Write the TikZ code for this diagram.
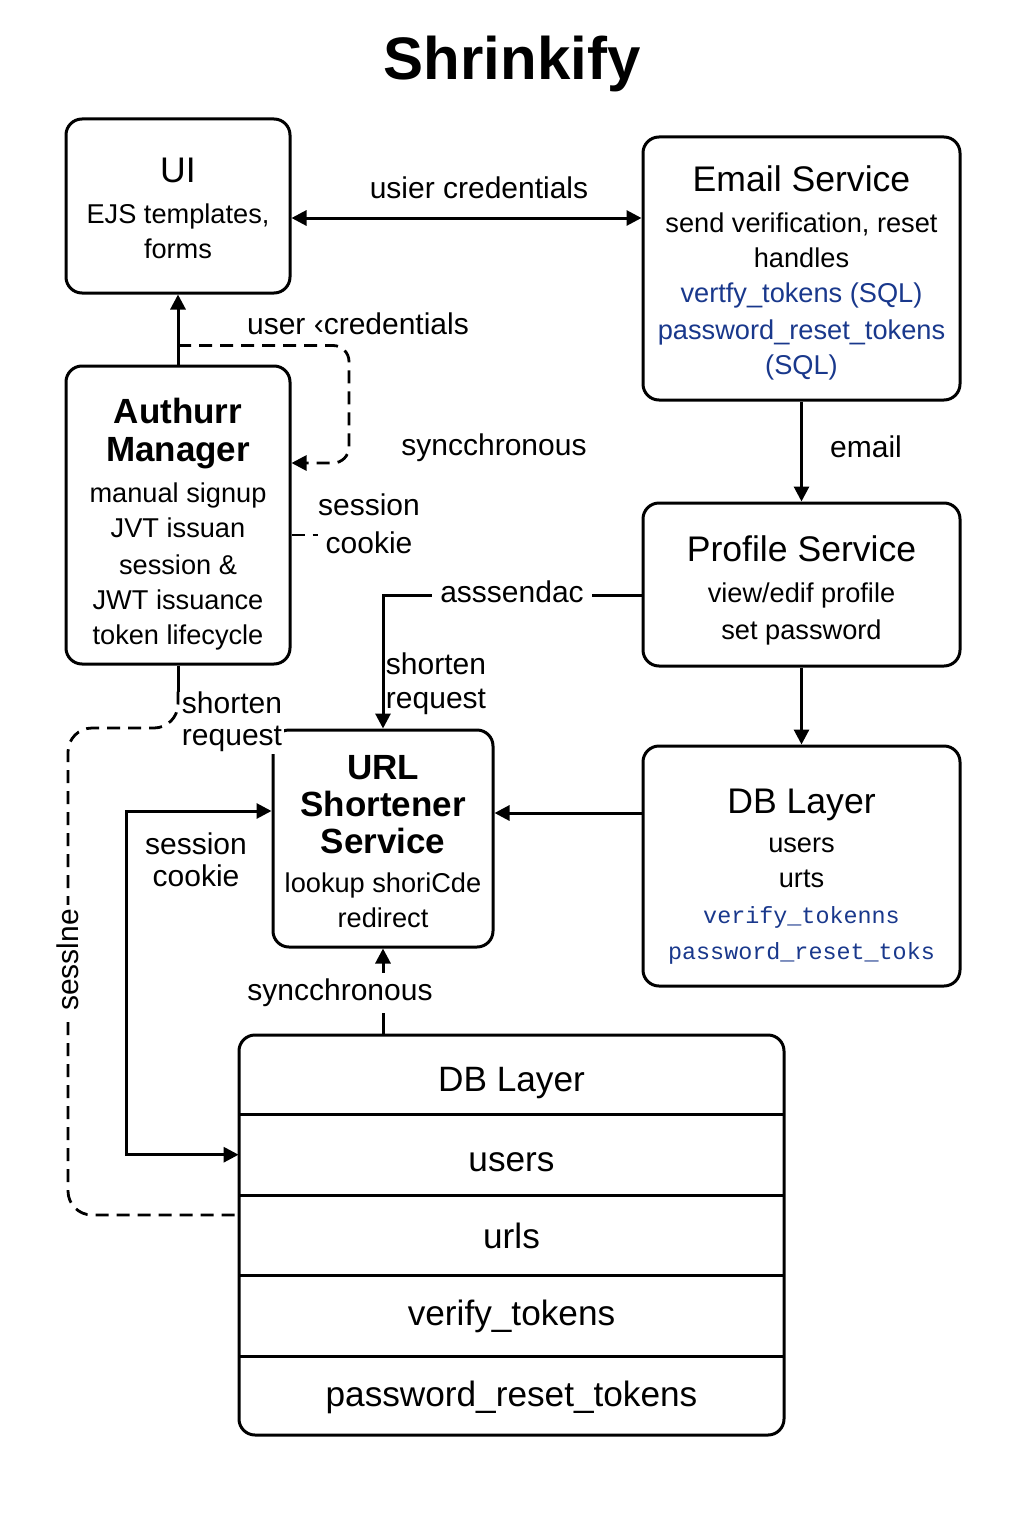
\documentclass[tikz,border=0pt]{standalone}
\usepackage{fontspec}
\setmainfont{Liberation Sans}
\setmonofont{Liberation Mono}
\usepackage{xcolor}
\usepackage{tikz}
\usetikzlibrary{arrows.meta,
                calc,
                positioning}
\definecolor{tokenblue}{rgb}{0.10,0.22,0.55}
\newcommand\boxtitle{\fontsize{17.8}{21}\selectfont}
\newcommand\boxtitlebf{\fontsize{17.5}{19}\selectfont\bfseries}
\newcommand\tokentext[1]{\textcolor{tokenblue}{#1}}
\newcommand\tokenmono[1]{{\ttfamily\fontsize{11.7}{17.5}\selectfont\color{tokenblue}#1}}
\newcommand\topgap[1]{\rule{0pt}{#1}}% extra room above the first line

\begin{document}
\begin{tikzpicture}[x=0.5pt, y=-0.5pt,
  every node/.style={font=\fontsize{13.6}{17.5}\selectfont},
  block/.style={draw, line width=1.5pt, rounded corners=8pt, align=center, inner sep=2pt},
  lbl/.style={font=\fontsize{15}{19}\selectfont, align=center, inner sep=1pt},
  link/.style={line width=1.5pt, -{Triangle[length=7.5pt,width=7.5pt]}},
  twoway/.style={line width=1.5pt, {Triangle[length=7.5pt,width=7.5pt]}-{Triangle[length=7.5pt,width=7.5pt]}},
  dashlink/.style={line width=1.4pt, dash pattern=on 6.5pt off 4pt},
  dbrow/.style={minimum width=272.5pt, minimum height=40pt, inner sep=0pt, font=\fontsize{17.6}{20}\selectfont}]

  \useasboundingbox (0,0) rectangle (1024,1536);
  \fill[white] (0,0) rectangle (1024,1536);

  \node[font=\fontsize{30}{36}\selectfont\bfseries] (title) at (512,64) {Shrinkify};

  % services
  \node[block, minimum width=112pt, minimum height=87pt] (ui) at (178,206)
    {{\boxtitle\topgap{15pt}UI}\\[3pt] EJS templates,\\ forms};
  \node[block, minimum width=158.5pt, minimum height=131.5pt] (email) at (801.5,268.5)
    {{\boxtitle\topgap{17pt}Email Service}\\[3pt] send verification, reset\\ handles\\
     \tokentext{vertfy\_tokens (SQL)}\\[1pt] \tokentext{password\_reset\_tokens}\\ \tokentext{(SQL)}};
  \node[block, minimum width=112pt, minimum height=149pt] (auth) at (178,515)
    {{\boxtitlebf\topgap{21.5pt}Authurr}\\[1.5pt]{\boxtitlebf Manager}\\[3pt] manual signup\\ JVT issuan\\[1pt]
     session \&\\ JWT issuance\\ token lifecycle};
  \node[block, minimum width=158.5pt, minimum height=81.5pt] (profile) at (801.5,584.5)
    {{\boxtitle\topgap{19pt}Profile Service}\\[3pt] view/edif profile\\[1pt] set password};
  \node[block, minimum width=110pt, minimum height=108.5pt] (url) at (383,838.5)
    {{\boxtitlebf\topgap{15pt}URL}\\[1pt]{\boxtitlebf Shortener}\\[1pt]{\boxtitlebf Service}\\[2pt] lookup shoriCde\\ redirect};
  \node[block, minimum width=158.5pt, minimum height=120pt] (dbside) at (801.5,866)
    {{\boxtitle\topgap{23pt}DB Layer}\\[2pt] users\\ urts\\[0.5pt] \tokenmono{verify\_tokenns}\\[0.5pt] \tokenmono{password\_reset\_toks}};

  % database table
  \node[block, minimum width=272.5pt, minimum height=200pt] (dbmain) at (511.5,1235) {};
  \node[dbrow, below=0pt of dbmain.north] (dbhead) {\topgap{21pt}DB Layer};
  \node[dbrow, below=0pt of dbhead] (dbusers) {\topgap{17pt}users};
  \node[dbrow, below=0pt of dbusers] (dburls) {urls};
  \node[dbrow, below=0pt of dburls] (dbverify) {verify\_tokens};
  \node[dbrow, below=0pt of dbverify] (dbreset) {password\_reset\_tokens};
  \foreach \row in {dbhead,dbusers,dburls,dbverify}
    \draw[line width=1.5pt] (\row.south west) -- (\row.south east);

  % connections
  \coordinate (credL) at ($(ui.east)+(0,12)$);
  \draw[twoway] (credL) -- (credL -| email.west);
  \node[lbl] (credlbl) at (479,188) {usier credentials};

  \draw[link] (auth.north) -- (ui.south);
  \coordinate (loopTop) at ($(auth.north)+(0,-19)$);
  \coordinate (loopEnd) at (349,463);
  \draw[dashlink, rounded corners=8pt, -{Triangle[length=7.5pt,width=7.5pt]}]
    (loopTop) -| (loopEnd) -- (loopEnd -| auth.east);
  \node[lbl] (credlbl2) at (358,324) {user ‹credentials};
  \node[lbl] (synclbl) at (494,448) {syncchronous};

  \draw[dashlink] ($(auth.east)+(0,20)$) -- ++(26,0);
  \node[lbl] (cookielbl) at (369,524) {session\\ cookie};

  \draw[link] (email.south) -- (profile.north);
  \node[lbl] (emaillbl) at (866,447) {email};

  \coordinate (ascA) at ($(profile.west)+(0,11)$);
  \draw[link] (ascA) -| (url.north);
  \node[lbl, fill=white, inner sep=4pt] (asclbl) at (512,592) {asssendac};
  \node[lbl, align=left] (shortlbl) at (436,684) {shorten\\[-2pt] request};

  \draw[link] (profile.south) -- (dbside.north);
  \coordinate (sideA) at ($(dbside.west)+(0,-53)$);
  \draw[link] (sideA) -- (sideA -| url.east);

  \coordinate (sessC) at (126,811);
  \draw[twoway] (sessC -| url.west) -- (sessC) |- (dbusers.west);
  \node[lbl] (sesslbl) at (196,860) {session\\[-3pt] cookie};

  \draw[link] (url.south |- dbmain.north) -- (url.south);
  \node[lbl, fill=white, inner sep=3pt] (synclbl2) at (340,993) {syncchronous};

  \draw[line width=1.5pt] (auth.south) -- ++(0,26) coordinate (sessTop);
  \coordinate (sessBend) at (68,728);
  \coordinate (sessLow) at (68,1215);
  \draw[dashlink, rounded corners=12pt] (sessTop) |- (sessBend) -- (sessLow) -- (sessLow -| dbmain.west);
  \node[lbl, rotate=90, fill=white, inner sep=2pt] (sessvert) at (68,960) {sesslne};
  \node[lbl, align=left, fill=white] (shortlbl2) at (232,722) {shorten\\[-3pt] request};
\end{tikzpicture}
\end{document}
